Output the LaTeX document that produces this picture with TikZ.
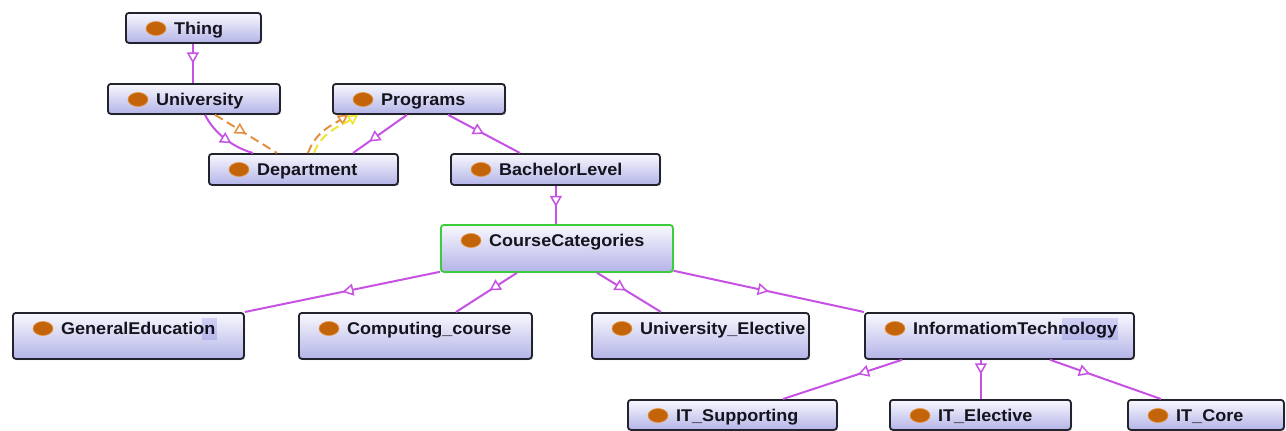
\documentclass[tikz,border=0pt]{standalone}
\usepackage{fontspec}
\setmainfont{Liberation Sans}[FakeStretch=1.06]
\usetikzlibrary{arrows.meta,decorations.markings,shadows}
\definecolor{boxtop}{RGB}{248,248,254}
\definecolor{boxbot}{RGB}{180,180,232}
\definecolor{boxline}{RGB}{35,35,45}
\definecolor{catline}{RGB}{60,205,60}
\definecolor{dotc}{RGB}{196,100,10}
\definecolor{dotrim}{RGB}{232,150,60}
\definecolor{edgec}{RGB}{198,82,228}
\definecolor{orangec}{RGB}{228,140,55}
\definecolor{yellowc}{RGB}{238,228,40}
\definecolor{txtc}{RGB}{20,20,30}
\definecolor{hilite}{RGB}{222,222,248}
\tikzset{
  classbox/.style={rectangle, rounded corners=3pt, draw=boxline, line width=1.8pt,
    top color=boxtop, bottom color=boxbot, inner sep=0pt,
    drop shadow={opacity=0.35, shadow xshift=1.2pt, shadow yshift=-1.2pt}},
  catbox/.style={draw=catline},
  lbl/.style={inner sep=0pt, text=txtc, font=\fontsize{17pt}{20pt}\selectfont\bfseries},
  isa/.style={draw=edgec, line width=2pt},
  orangedash/.style={draw=orangec, line width=1.9pt, dash pattern=on 9pt off 5pt},
  yellowdash/.style={draw=yellowc, line width=1.9pt, dash pattern=on 9pt off 5pt},
  tri/.style={postaction={decorate}, decoration={markings,
    mark=at position #1 with {\arrow{Triangle[fill=white, length=11pt, width=12pt, line width=1.5pt]}}}},
  tri/.default=0.5,
  endtri/.style={-{Triangle[fill=white, length=10pt, width=11pt, line width=1.5pt]}},
}
\newcommand\owlclass[7][]{%
  \node[classbox,#1,minimum width=#5pt,minimum height=#6pt,anchor=north west] (#2) at (#3,#4) {};
  \filldraw[fill=dotc,draw=dotrim,line width=0.6pt] ([xshift=31pt,yshift=-16.5pt]#2.north west) ellipse [x radius=10pt, y radius=7pt];
  \node[lbl,anchor=base west] (#2-t) at ([xshift=49pt,yshift=-22.5pt]#2.north west) {#7};
}
\begin{document}
\begin{tikzpicture}[x=1pt,y=-1pt]
\useasboundingbox[fill=white] (0,0) rectangle (1286,431);
% classes
\owlclass{thing}{125}{12}{135}{30}{Thing}
\owlclass{university}{107}{83}{172}{30}{University}
\owlclass{programs}{332}{83}{172}{30}{Programs}
\owlclass{department}{208}{153}{189}{31}{Department}
\owlclass{bachelor}{450}{153}{209}{31}{BachelorLevel}
\owlclass[catbox]{coursecat}{440}{224}{232}{47}{CourseCategories}
\owlclass{gened}{12}{312}{231}{46}{GeneralEducation}
\owlclass{computing}{298}{312}{233}{46}{Computing\_course}
\owlclass{univelec}{591}{312}{217}{46}{University\_Elective}
\owlclass{infotech}{864}{312}{269}{46}{InformatiomTechnology}
\owlclass{itsup}{627}{399}{209}{30}{IT\_Supporting}
\owlclass{itelec}{889}{399}{181}{30}{IT\_Elective}
\owlclass{itcore}{1127}{399}{156}{30}{IT\_Core}
% faint selection highlights seen in the reference
\begin{scope}[blend mode=multiply]
\fill[hilite] ([xshift=198pt,yshift=-6pt]infotech.north west) rectangle ([xshift=254pt,yshift=-28pt]infotech.north west);
\fill[hilite] ([xshift=190pt,yshift=-6pt]gened.north west) rectangle ([xshift=205pt,yshift=-28pt]gened.north west);
\end{scope}
% connectors
\draw[isa,tri=0.5] ([xshift=-0.5pt]thing.south) -- ([xshift=-0.5pt]thing.south |- university.north);
\draw[isa,tri=0.62] ([xshift=98pt]university.south west) .. controls +(10,20) and +(-18,-5) .. ([xshift=45pt]department.north west);
\draw[orangedash,tri=0.5] ([xshift=108pt]university.south west) -- ([xshift=69pt]department.north west);
\draw[orangedash,endtri] ([xshift=100pt]department.north west) .. controls +(8,-22) and +(-15,10) .. ([xshift=16pt]programs.south west);
\draw[yellowdash,endtri] ([xshift=106pt]department.north west) .. controls +(8,-22) and +(-15,10) .. ([xshift=26pt]programs.south west);
\draw[isa,tri=0.7] ([xshift=75pt]programs.south west) -- ([xshift=145pt]department.north west);
\draw[isa,tri=0.5] ([xshift=116pt]programs.south west) -- ([xshift=70pt]bachelor.north west);
\draw[isa,tri=0.55] ([xshift=0.5pt]bachelor.south) -- ([xshift=0.5pt]bachelor.south |- coursecat.north);
\draw[isa,tri=0.5] ([yshift=1pt]coursecat.south west) -- (gened.north east);
\draw[isa,tri=0.45] ([xshift=77pt]coursecat.south west) -- ([xshift=158pt]computing.north west);
\draw[isa,tri=0.45] ([xshift=157pt]coursecat.south west) -- ([xshift=70pt]univelec.north west);
\draw[isa,tri=0.5] ([yshift=2pt]coursecat.south east) -- (infotech.north west);
\draw[isa,tri=0.37] ([xshift=38pt]infotech.south west) -- ([xshift=156pt]itsup.north west);
\draw[isa,tri=0.37] ([xshift=0.5pt]itelec.north |- infotech.south) -- ([xshift=0.5pt]itelec.north);
\draw[isa,tri=0.36] ([xshift=186pt]infotech.south west) -- ([xshift=34pt]itcore.north west);
\end{tikzpicture}
\end{document}
